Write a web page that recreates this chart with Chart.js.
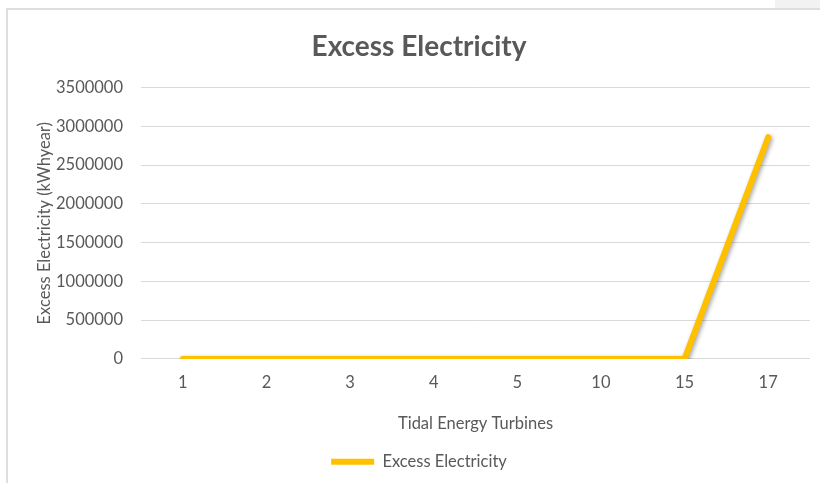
<!DOCTYPE html>
<html>
<head>
<meta charset="utf-8">
<script src="https://cdn.jsdelivr.net/npm/chart.js@4.4.1/dist/chart.umd.min.js"></script>
<style>
  html, body { margin: 0; padding: 0; background: #ffffff; }
  #wrap { width: 820px; height: 483px; position: relative; }
</style>
</head>
<body>
<div id="wrap"><canvas id="chart" width="820" height="483"></canvas></div>
<script>
// Number of tidal energy turbines (category axis)
const turbines = ['1', '2', '3', '4', '5', '10', '15', '17'];
// Excess electricity produced (kWh/year)
const excessElectricity = [0, 0, 0, 0, 0, 0, 0, 2860000];
// Value axis range
const yMin = 0;
const yMax = 3500000;
const yStep = 500000;

const textColor = '#595959';
const gridColor = '#d9d9d9';
const lineColor = '#ffc000';
const fontFamily = 'Lato, "Open Sans", sans-serif';
const labelSize = 16.5;

// Frame around the chart and the grey strip at the top right
const framePlugin = {
  id: 'frame',
  beforeDraw(chart) {
    const ctx = chart.ctx;
    ctx.save();
    ctx.fillStyle = '#ffffff';
    ctx.fillRect(0, 0, chart.width, chart.height);
    ctx.fillStyle = '#f2f2f2';
    ctx.fillRect(775, 0, chart.width - 775, 8);
    ctx.strokeStyle = '#dedede';
    ctx.lineWidth = 2;
    ctx.beginPath();
    ctx.moveTo(chart.width, 9);
    ctx.lineTo(7, 9);
    ctx.lineTo(7, chart.height);
    ctx.stroke();
    ctx.restore();
  }
};

// Soft drop shadow under the series line
const shadowPlugin = {
  id: 'lineShadow',
  beforeDatasetsDraw(chart) {
    const ctx = chart.ctx;
    ctx.save();
    ctx.shadowColor = 'rgba(0,0,0,0.35)';
    ctx.shadowBlur = 4;
    ctx.shadowOffsetX = 1.5;
    ctx.shadowOffsetY = 1.5;
  },
  afterDatasetsDraw(chart) {
    chart.ctx.restore();
  }
};

new Chart(document.getElementById('chart'), {
  type: 'line',
  data: {
    labels: turbines,
    datasets: [{
      label: 'Excess Electricity',
      data: excessElectricity,
      borderColor: lineColor,
      backgroundColor: lineColor,
      borderWidth: 6,
      borderCapStyle: 'round',
      borderJoinStyle: 'round',
      pointRadius: 0,
      pointHoverRadius: 0,
      tension: 0,
      fill: false
    }]
  },
  options: {
    responsive: false,
    animation: false,
    devicePixelRatio: 1,
    layout: { padding: { top: 12, left: 28, right: 10, bottom: 3 } },
    plugins: {
      tooltip: { enabled: false },
      title: {
        display: true,
        text: 'Excess Electricity',
        color: textColor,
        font: { family: fontFamily, size: 28, weight: 'bold', lineHeight: 1.2 },
        padding: { top: 18, bottom: 24 }
      },
      legend: {
        display: true,
        position: 'bottom',
        labels: {
          color: textColor,
          font: { family: fontFamily, size: labelSize },
          usePointStyle: true,
          pointStyle: 'line',
          pointStyleWidth: 43,
          boxHeight: 16,
          padding: 8
        }
      }
    },
    scales: {
      x: {
        offset: true,
        grid: { display: false, drawTicks: false },
        border: { display: false },
        ticks: {
          color: textColor,
          font: { family: fontFamily, size: labelSize },
          padding: 14,
          maxRotation: 0
        },
        title: {
          display: true,
          text: 'Tidal Energy Turbines',
          color: textColor,
          font: { family: fontFamily, size: labelSize },
          padding: { top: 7, bottom: 12 }
        }
      },
      y: {
        min: yMin,
        max: yMax,
        grid: { color: gridColor, lineWidth: 1, drawTicks: false },
        border: { display: false },
        ticks: {
          stepSize: yStep,
          color: textColor,
          font: { family: fontFamily, size: labelSize },
          padding: 18,
          callback: (v) => String(v)
        },
        title: {
          display: true,
          text: 'Excess Electricity (kWhyear)',
          color: textColor,
          font: { family: fontFamily, size: labelSize },
          padding: { top: 7, bottom: 0 }
        },
        afterFit(scale) { scale.width = 113; }
      }
    }
  },
  plugins: [framePlugin, shadowPlugin]
});
</script>
</body>
</html>
